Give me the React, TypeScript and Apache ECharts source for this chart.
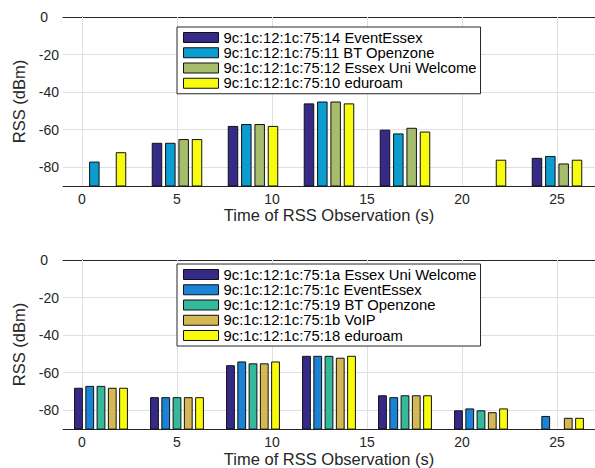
import React, { useEffect, useRef } from "react";
import * as echarts from "echarts";

// ---- data ----
const OFFSET = 100; // bars are drawn up from the bottom of the axis (-90 dBm)
const times = [1, 5, 9, 13, 17, 21, 25];
const xTicks = [0, 5, 10, 15, 20, 25];
const yTicks = [0, -20, -40, -60, -80];
const X_MIN = -1;
const X_MAX = 27;
const Y_MIN = -90;
const Y_MAX = 0;

const topNames = [
  "9c:1c:12:1c:75:14 EventEssex",
  "9c:1c:12:1c:75:11 BT Openzone",
  "9c:1c:12:1c:75:12 Essex Uni Welcome",
  "9c:1c:12:1c:75:10 eduroam",
];
const topColors = ["#352a87", "#0b9cd0", "#a6be6b", "#f9fb0e"];
const topEventEssex = [null, -67, -58, -46, -60, null, -75];
const topBTOpenzone = [-77, -67, -57, -45, -62, null, -74];
const topEssexUniWelcome = [null, -65, -57, -45, -59, null, -78];
const topEduroam = [-72, -65, -58, -46, -61, -76, -76];

const bottomNames = [
  "9c:1c:12:1c:75:1a Essex Uni Welcome",
  "9c:1c:12:1c:75:1c EventEssex",
  "9c:1c:12:1c:75:19 BT Openzone",
  "9c:1c:12:1c:75:1b VoIP",
  "9c:1c:12:1c:75:18 eduroam",
];
const bottomColors = ["#352a87", "#1a83d6", "#35b89b", "#d5b853", "#f9fb0e"];
const botEssexUniWelcome = [-68, -73, -56, -51, -72, -80, null];
const botEventEssex = [-67, -73, -54, -51, -73, -79, -83];
const botBTOpenzone = [-67, -73, -55, -51, -72, -80, null];
const botVoIP = [-68, -73, -55, -52, -72, -81, -84];
const botEduroam = [-68, -73, -54, -51, -72, -79, -84];

const topValues = [topEventEssex, topBTOpenzone, topEssexUniWelcome, topEduroam];
const bottomValues = [botEssexUniWelcome, botEventEssex, botBTOpenzone, botVoIP, botEduroam];

const FONT = "'Liberation Sans', Arial, Helvetica, sans-serif";
const AX = "#262626";
const MAJOR_GRID = "#e0e0e0";
const MINOR_GRID = "#c4c4c4";

function xAxesFor(gridIndex: number) {
  return [
    {
      type: "value", gridIndex, position: "bottom", min: X_MIN, max: X_MAX, interval: 1,
      name: "Time of RSS Observation (s)", nameLocation: "middle", nameGap: 20,
      nameTextStyle: { fontSize: 16.5, color: AX, fontFamily: FONT },
      axisLine: { show: true, lineStyle: { color: AX, width: 1 } },
      axisTick: { show: true, inside: true, length: 5, customValues: xTicks, lineStyle: { color: AX } },
      axisLabel: { show: true, margin: 6, fontSize: 14, color: AX, fontFamily: FONT, customValues: xTicks },
      splitLine: { show: true, lineStyle: { color: MINOR_GRID, width: 1, type: [1, 2] } },
    },
    {
      type: "value", gridIndex, position: "top", min: X_MIN, max: X_MAX, interval: 1,
      axisLine: { show: true, lineStyle: { color: AX, width: 1 } },
      axisTick: { show: true, inside: true, length: 5, customValues: xTicks, lineStyle: { color: AX } },
      axisLabel: { show: false }, splitLine: { show: false },
    },
  ];
}

const yLabelValues = yTicks.map((v) => v + OFFSET);

function yAxesFor(gridIndex: number) {
  return [
    {
      type: "value", gridIndex, position: "left", min: Y_MIN + OFFSET, max: Y_MAX + OFFSET, interval: 10,
      name: "RSS (dBm)", nameLocation: "middle", nameGap: 30,
      nameTextStyle: { fontSize: 16.5, color: AX, fontFamily: FONT },
      axisLine: { show: true, lineStyle: { color: AX, width: 1 } },
      axisTick: { show: true, inside: true, length: 5, customValues: yLabelValues, lineStyle: { color: AX } },
      axisLabel: {
        show: true, margin: 4, fontSize: 14, color: AX, fontFamily: FONT, customValues: yLabelValues,
        formatter: (v: number) => {
          const r = Math.round(v - OFFSET);
          return r === 0 ? "{z|0}" : String(r);
        },
        rich: { z: { fontSize: 14, color: AX, fontFamily: FONT, padding: [0, 11, 0, 0] } },
      },
      splitLine: { show: true, lineStyle: { color: MINOR_GRID, width: 1, type: [1, 2] } },
    },
  ];
}

function gridLineSeries(xIdx: number, yIdx: number) {
  return {
    type: "line",
    xAxisIndex: xIdx,
    yAxisIndex: yIdx,
    data: [],
    z: 1,
    silent: true,
    markLine: {
      z: 1,
      silent: true,
      symbol: "none",
      label: { show: false },
      emphasis: { disabled: true },
      lineStyle: { color: MAJOR_GRID, width: 1, type: "solid" },
      data: [
        ...xTicks.map((v) => ({ xAxis: v })),
        ...yTicks.filter((v) => v !== Y_MAX).map((v) => ({ yAxis: v + OFFSET })),
      ],
    },
  };
}

function barSeries(names: string[], colors: string[], values: (number | null)[][], xIdx: number, yIdx: number, width: number, gap: string) {
  return names.map((name, s) => ({
    type: "bar",
    name,
    xAxisIndex: xIdx,
    yAxisIndex: yIdx,
    barWidth: width,
    barGap: gap,
    clip: true,
    z: 2,
    itemStyle: { color: colors[s], borderColor: "#111", borderWidth: 1 },
    emphasis: { disabled: true },
    data: times.map((t, i) => [t, values[s][i] == null ? "-" : (values[s][i] as number) + OFFSET]),
  }));
}

function legendFor(names: string[], top: number) {
  return {
    data: names,
    orient: "vertical",
    left: 177,
    top,
    padding: [3, 4, 3, 6],
    itemGap: 0.25,
    itemWidth: 35,
    itemHeight: 10,
    icon: "rect",
    selectedMode: false,
    backgroundColor: "#fff",
    borderColor: AX,
    borderWidth: 1,
    itemStyle: { borderColor: "#111", borderWidth: 1 },
    textStyle: { fontSize: 14.8, color: "#000", fontFamily: FONT, lineHeight: 14 },
  };
}

export default function App() {
  const ref = useRef<HTMLDivElement>(null);
  useEffect(() => {
    if (!ref.current) return;
    const chart = echarts.init(ref.current, undefined, { renderer: "svg" });
    chart.setOption({
      animation: false,
      backgroundColor: "#fff",
      textStyle: { fontFamily: FONT },
      grid: [
        { left: 63, width: 532, top: 17, height: 169 },
        { left: 63, width: 532, top: 260, height: 170 },
      ],
      xAxis: [...xAxesFor(0), ...xAxesFor(1)],
      yAxis: [...yAxesFor(0), ...yAxesFor(1)],
      legend: [legendFor(topNames, 27), legendFor(bottomNames, 264)],
      series: [
        gridLineSeries(0, 0),
        gridLineSeries(2, 1),
        ...barSeries(topNames, topColors, topValues, 0, 0, 10.5, "27%"),
        ...barSeries(bottomNames, bottomColors, bottomValues, 2, 1, 8.8, "28%"),
      ],
    });
    return () => chart.dispose();
  }, []);
  return (
    <div
      ref={ref}
      style={{ position: "fixed", left: 0, top: 0, width: 595, height: 468, background: "#fff" }}
    />
  );
}
